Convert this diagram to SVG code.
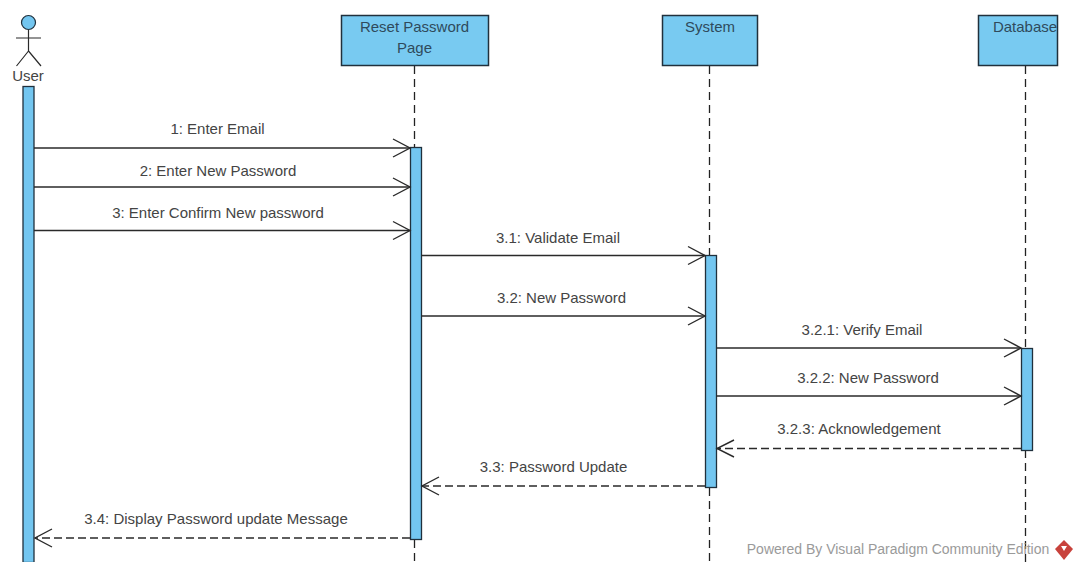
<svg xmlns="http://www.w3.org/2000/svg" width="1076" height="562" viewBox="0 0 1076 562">
<style>
text{font-family:"Liberation Sans",Arial,sans-serif;font-size:15px;fill:#444;text-anchor:middle}
.nm{fill:#2f4a5c}
.box{fill:#78caf1;stroke:#20303c;stroke-width:1.5}
.act{fill:#73c6f0;stroke:#20303c;stroke-width:1.3}
.life{stroke:#222;stroke-width:1.3;stroke-dasharray:8 5;fill:none}
.msg{stroke:#2a2a2a;stroke-width:1.4;fill:none}
.ret{stroke:#2a2a2a;stroke-width:1.4;fill:none;stroke-dasharray:8 4}
.head{stroke:#2a2a2a;stroke-width:1.4;fill:none}
.fig{stroke:#2a2a2a;stroke-width:1.2;fill:none}
</style>
<rect width="1076" height="562" fill="#fff"/>
<g id="lifelines">
<line class="life" x1="414.500" y1="66" x2="414.500" y2="148"/>
<line class="life" x1="414.500" y1="540" x2="414.500" y2="562"/>
<line class="life" x1="709.500" y1="66" x2="709.500" y2="255"/>
<line class="life" x1="709.500" y1="488" x2="709.500" y2="562"/>
<line class="life" x1="1025.500" y1="66" x2="1025.500" y2="348"/>
<line class="life" x1="1025.500" y1="450" x2="1025.500" y2="562"/>
</g>
<g id="user">
<circle cx="28.500" cy="22.500" r="7" fill="#73c6f0" stroke="#20303c" stroke-width="1.2"/>
<path class="fig" d="M28.500 30V51M16 38H41M28.500 51L16.500 66M28.500 51L41 66"/>
<text x="28" y="81">User</text>
<rect class="act" x="23" y="86.500" width="11" height="476"/>
</g>
<g id="reset-password-page">
<rect class="box" x="341.500" y="15.500" width="147" height="50"/>
<text class="nm" x="414.500" y="32">Reset Password</text>
<text class="nm" x="414.500" y="53">Page</text>
<rect class="act" x="410.500" y="147.500" width="11" height="392"/>
</g>
<g id="system">
<rect class="box" x="662.500" y="15.500" width="95" height="50"/>
<text class="nm" x="710" y="32">System</text>
<rect class="act" x="705.500" y="255.500" width="11" height="232"/>
</g>
<g id="database">
<rect class="box" x="978.500" y="15.500" width="79" height="50"/>
<text class="nm" x="1025" y="32">Database</text>
<rect class="act" x="1021.500" y="348.500" width="11" height="102"/>
</g>
<g id="connectors">
<path class="msg" d="M34 148H410"/><path class="head" d="M393 139L410 148L393 157"/>
<path class="msg" d="M34 187H410"/><path class="head" d="M393 178L410 187L393 196"/>
<path class="msg" d="M34 230.500H410"/><path class="head" d="M393 221.500L410 230.500L393 239.500"/>
<path class="msg" d="M421 255.500H705"/><path class="head" d="M688 246.500L705 255.500L688 264.500"/>
<path class="msg" d="M421 316H705"/><path class="head" d="M688 307L705 316L688 325"/>
<path class="msg" d="M716 348H1021"/><path class="head" d="M1004 339L1021 348L1004 357"/>
<path class="msg" d="M716 396H1021"/><path class="head" d="M1004 387L1021 396L1004 405"/>
<path class="ret" d="M1021 448.500H717"/><path class="head" d="M734 440L717 448.500L734 457"/>
<path class="ret" d="M705 486H422"/><path class="head" d="M439 477L422 486L439 495"/>
<path class="ret" d="M410 538H35"/><path class="head" d="M52 529L35 538L52 547"/>
</g>
<g id="labels">
<text x="217.500" y="134">1: Enter Email</text>
<text x="218" y="176">2: Enter New Password</text>
<text x="218" y="218">3: Enter Confirm New password</text>
<text x="558" y="243">3.1: Validate Email</text>
<text x="561.500" y="303">3.2: New Password</text>
<text x="862" y="335">3.2.1: Verify Email</text>
<text x="868" y="383">3.2.2: New Password</text>
<text x="859" y="434">3.2.3: Acknowledgement</text>
<text x="553.500" y="472">3.3: Password Update</text>
<text x="216" y="524">3.4: Display Password update Message</text>
</g>
<g id="watermark">
<text x="898" y="554" style="font-size:14px;fill:#9a9a9a">Powered By  Visual Paradigm Community Edition</text>
<path d="M1064 540L1073 549L1064 560L1055 549Z" fill="#c8423c"/>
<path d="M1061 546H1067L1064 551Z" fill="#fff"/>
</g>
</svg>
